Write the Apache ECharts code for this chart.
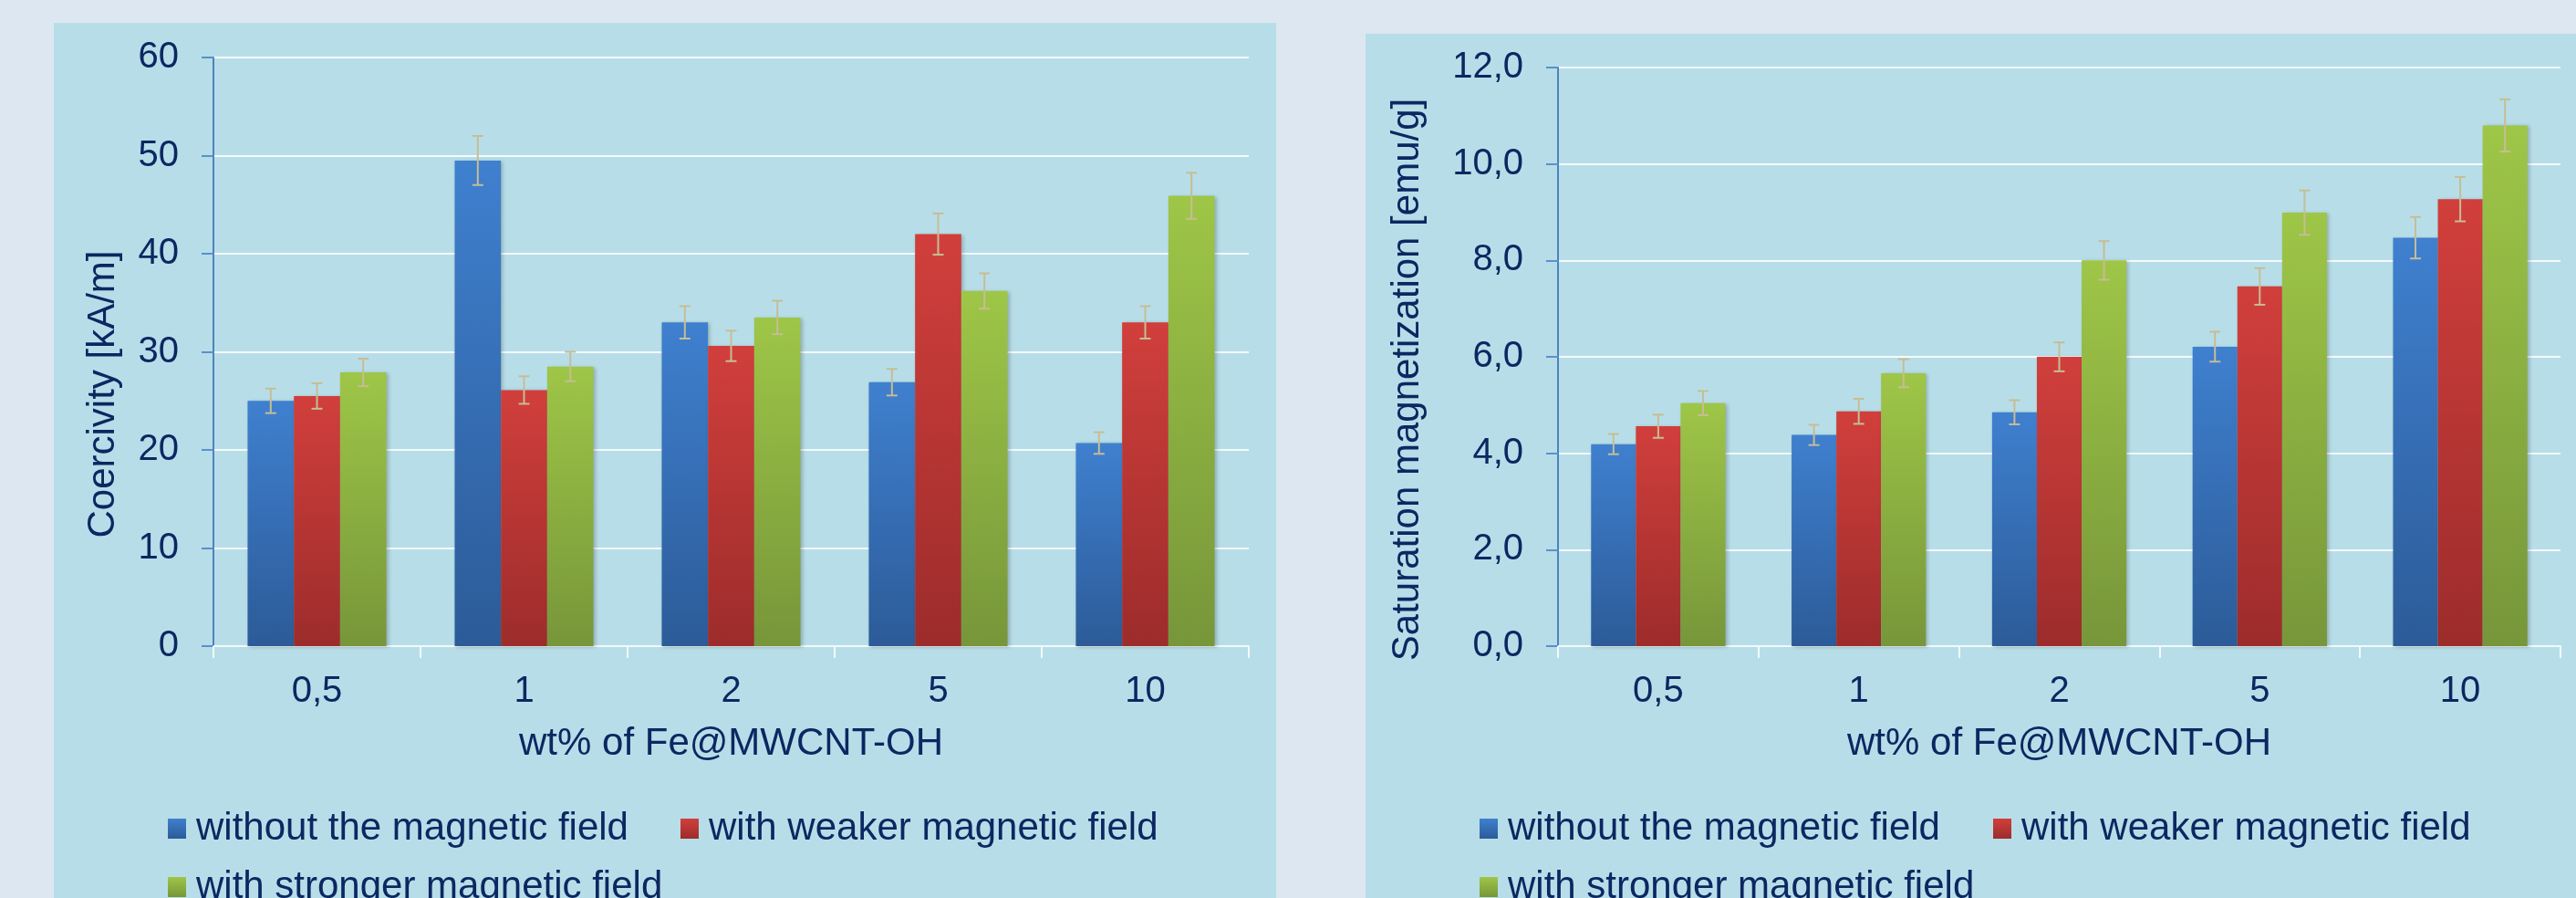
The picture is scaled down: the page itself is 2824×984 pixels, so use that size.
<!DOCTYPE html>
<html>
<head>
<meta charset="utf-8">
<script src="https://cdn.jsdelivr.net/npm/echarts@6/dist/echarts.min.js"></script>
<style>
html,body{margin:0;padding:0;background:#dde7f1;}
#chart{width:2824px;height:984px;}
</style>
</head>
<body>
<div id="chart"></div>
<script>
// ---- data ----
const categories = ['0,5', '1', '2', '5', '10'];
const seriesNames = ['without the magnetic field', 'with weaker magnetic field', 'with stronger magnetic field'];

const coercWithout  = [25.0, 49.5, 33.0, 26.9, 20.7];
const coercWeaker   = [25.5, 26.1, 30.6, 42.0, 33.0];
const coercStronger = [27.9, 28.5, 33.5, 36.2, 45.9];
const coercErrWithout  = [1.25, 2.5, 1.65, 1.35, 1.1];
const coercErrWeaker   = [1.3, 1.4, 1.55, 2.1, 1.65];
const coercErrStronger = [1.4, 1.5, 1.7, 1.8, 2.35];

const satWithout  = [4.19, 4.38, 4.85, 6.21, 8.47];
const satWeaker   = [4.56, 4.87, 6.00, 7.46, 9.27];
const satStronger = [5.04, 5.66, 8.00, 8.99, 10.80];
const satErrWithout  = [0.21, 0.21, 0.25, 0.31, 0.43];
const satErrWeaker   = [0.24, 0.26, 0.30, 0.38, 0.46];
const satErrStronger = [0.25, 0.29, 0.40, 0.46, 0.54];

const xTitle = 'wt% of Fe@MWCNT-OH';
const yTitleLeft = 'Coercivity [kA/m]';
const yTitleRight = 'Saturation magnetization [emu/g]';

// ---- style ----
const TXT = '#0c2761';
const FONT = 'Arial, "Liberation Sans", sans-serif';
const ERR = '#c6bd95';
const GAP = 0.33;
const grads = [
  ['#3f80cf', '#2c5b98'],
  ['#d13f3c', '#9c2c2b'],
  ['#9ec647', '#77963a']
];
function grad(i) {
  return new echarts.graphic.LinearGradient(0, 0, 0, 1, [
    {offset: 0, color: grads[i][0]}, {offset: 1, color: grads[i][1]}
  ]);
}

function errRender(pos, n) {
  return function (params, api) {
    const cat = api.value(0), v = api.value(1), e = api.value(2);
    const band = api.size([1, 0])[0];
    const bw = band * (1 - GAP) / n;
    const cx = api.coord([cat, v])[0] + (pos - (n - 1) / 2) * bw;
    const top = api.coord([cat, v + e])[1];
    const bot = api.coord([cat, v - e])[1];
    const cap = 6;
    const st = {stroke: ERR, lineWidth: 2};
    return {type: 'group', children: [
      {type: 'line', shape: {x1: cx, y1: top, x2: cx, y2: bot}, style: st},
      {type: 'line', shape: {x1: cx - cap, y1: top, x2: cx + cap, y2: top}, style: st},
      {type: 'line', shape: {x1: cx - cap, y1: bot, x2: cx + cap, y2: bot}, style: st}
    ]};
  };
}

function zip3(a, b) { return a.map((v, i) => [i, v, b[i]]); }

const leftVals = [coercWithout, coercWeaker, coercStronger];
const leftErrs = [coercErrWithout, coercErrWeaker, coercErrStronger];
const rightVals = [satWithout, satWeaker, satStronger];
const rightErrs = [satErrWithout, satErrWeaker, satErrStronger];

const series = [];
[[leftVals, leftErrs, 0], [rightVals, rightErrs, 1]].forEach(([vals, errs, g]) => {
  vals.forEach((arr, i) => {
    series.push({
      type: 'bar', name: seriesNames[i], xAxisIndex: g, yAxisIndex: g,
      data: arr, barGap: '0%', barCategoryGap: (GAP * 100) + '%',
      itemStyle: {color: grad(i), shadowColor: 'rgba(0,0,0,0.22)', shadowBlur: 4, shadowOffsetX: 2, shadowOffsetY: 1},
      emphasis: {disabled: true}, z: 2
    });
  });
  vals.forEach((arr, i) => {
    series.push({
      type: 'custom', xAxisIndex: g, yAxisIndex: g, z: 5,
      renderItem: errRender(i, 3), data: zip3(arr, errs[i]), silent: true
    });
  });
});

function xAxisCfg(gi) {
  return {
    type: 'category', gridIndex: gi, data: categories,
    name: xTitle, nameLocation: 'middle', nameGap: 86,
    nameTextStyle: {color: TXT, fontSize: 42, fontFamily: FONT, lineHeight: 42},
    axisLine: {lineStyle: {color: '#f2f9fb', width: 2}},
    axisTick: {show: true, length: 13, lineStyle: {color: '#f2f9fb', width: 2}},
    axisLabel: {color: TXT, fontSize: 40, fontFamily: FONT, margin: 30, lineHeight: 40}
  };
}
function yAxisCfg(gi, max, interval, fmt) {
  return {
    type: 'value', gridIndex: gi, min: 0, max: max, interval: interval,
    axisLine: {show: true, lineStyle: {color: '#4f81bd', width: 2}},
    axisTick: {show: true, length: 13, lineStyle: {color: '#5b8fd0', width: 2}},
    axisLabel: {color: TXT, fontSize: 40, fontFamily: FONT, margin: 38, formatter: fmt},
    splitLine: {show: true, lineStyle: {color: '#f4fafc', width: 2}}
  };
}

function legendItem(name, left, top) {
  return {
    data: [name], left: left, top: top, orient: 'horizontal',
    icon: 'rect', itemWidth: 20, itemHeight: 22, itemGap: 0,
    selectedMode: false,
    textStyle: {color: TXT, fontSize: 42, fontFamily: FONT, lineHeight: 46, padding: [0, 0, 0, 6]}
  };
}

const option = {
  backgroundColor: '#dde7f1',
  animation: false,
  graphic: [
    {type: 'rect', z: -10, shape: {x: 59, y: 25, width: 1340, height: 970}, style: {fill: '#b7dee8'}},
    {type: 'rect', z: -10, shape: {x: 1497, y: 37, width: 1340, height: 960}, style: {fill: '#b7dee8'}},
    {type: 'text', x: 113, y: 432, rotation: Math.PI / 2,
     style: {text: yTitleLeft, fill: TXT, font: '42px ' + FONT, align: 'center', verticalAlign: 'middle'}},
    {type: 'text', x: 1543, y: 416, rotation: Math.PI / 2,
     style: {text: yTitleRight, fill: TXT, font: '42px ' + FONT, align: 'center', verticalAlign: 'middle'}}
  ],
  grid: [
    {left: 234, right: 2824 - 1369, top: 63, bottom: 984 - 708, containLabel: false, outerBoundsMode: 'none'},
    {left: 1708, right: 2824 - 2807, top: 74, bottom: 984 - 708, containLabel: false, outerBoundsMode: 'none'}
  ],
  xAxis: [xAxisCfg(0), xAxisCfg(1)],
  yAxis: [
    yAxisCfg(0, 60, 10, v => String(v)),
    yAxisCfg(1, 12, 2, v => v.toFixed(1).replace('.', ','))
  ],
  legend: [
    legendItem(seriesNames[0], 179, 880),
    legendItem(seriesNames[1], 741, 880),
    legendItem(seriesNames[2], 179, 944),
    legendItem(seriesNames[0], 1617, 880),
    legendItem(seriesNames[1], 2180, 880),
    legendItem(seriesNames[2], 1617, 944)
  ],
  series: series
};

const chart = echarts.init(document.getElementById('chart'), null, {renderer: 'canvas'});
chart.setOption(option);
</script>
</body>
</html>
